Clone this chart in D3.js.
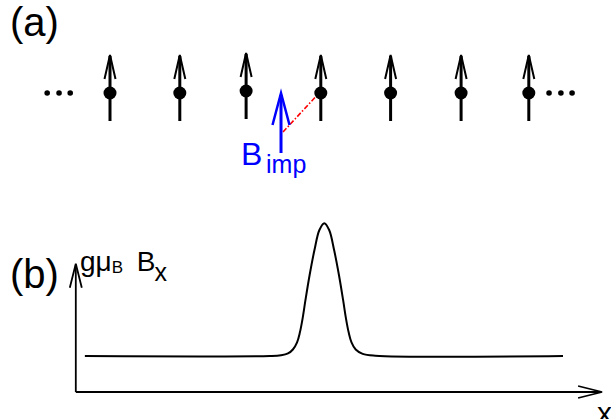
<!DOCTYPE html>
<html>
<head>
<meta charset="utf-8">
<script src="https://cdn.jsdelivr.net/npm/d3@7"></script>
<style>
  html, body { margin: 0; padding: 0; background: #fff; }
  svg { display: block; font-family: "Liberation Sans", Arial, sans-serif; }
</style>
</head>
<body>
<svg id="fig" width="611" height="419"></svg>
<script>
// Lattice sites of the spin chain (in lattice spacings)
const spinSites = [0, 1, 1.95, 3.02, 4.02, 5.03, 6];
// Impurity field sits between sites 2 and 3, linked to site 3
const impuritySite = 2.45;
const linkedSite = 3;
// Local field profile g·mu_B·B_x along the chain (site, value)
const profileX = [-0.36, 2.29, 2.45, 2.55, 2.62, 2.68, 2.72, 2.76, 2.80, 2.86, 2.93, 3.00, 3.07,
                  3.14, 3.21, 3.28, 3.34, 3.38, 3.42, 3.46, 3.52, 3.62, 3.80, 6.49];
const profileB = [1.0, 1.0, 1.02, 1.07, 1.18, 1.38, 1.65, 2.05, 2.55, 3.25, 3.95, 4.5, 4.69,
                  4.5, 3.95, 3.25, 2.55, 2.05, 1.65, 1.38, 1.18, 1.06, 1.01, 1.0];
// Extent of the axes in panel (b)
const axisXRange = [-0.49, 7.05];
const axisYRange = [0, 3.56];

const svg = d3.select("#fig");
const x = d3.scaleLinear().domain([0, 6]).range([110, 528.8]);
const y = d3.scaleLinear().domain([0, 5]).range([392, 212]);

// ---------- panel (a): spin chain ----------
const chainY = 93;
const a = svg.append("g");

a.append("text").attr("x", 10).attr("y", 36).attr("font-size", 40).text("(a)");

const spin = a.selectAll("g.spin").data(spinSites).join("g")
  .attr("class", "spin")
  .attr("transform", (d, i) => `translate(${x(d)},${i === 2 ? chainY - 2 : chainY})`);
spin.append("line").attr("x1", 0).attr("x2", 0).attr("y1", 28).attr("y2", -37)
  .attr("stroke", "#000").attr("stroke-width", 3);
spin.append("path").attr("d", "M-5.5,-14 L0,-38 L5.5,-14")
  .attr("fill", "none").attr("stroke", "#000").attr("stroke-width", 2);
spin.append("circle").attr("r", 6.5).attr("fill", "#000");

// ellipses at both ends of the chain
const dotsL = [-0.9, -0.73, -0.57];
const dotsR = [6.29, 6.46, 6.62];
a.selectAll("circle.ell").data(dotsL.concat(dotsR)).join("circle")
  .attr("class", "ell").attr("cx", d => x(d)).attr("cy", chainY).attr("r", 2.8)
  .attr("fill", "#000");

// coupling of the impurity to its neighbouring spin
a.append("line")
  .attr("x1", x(impuritySite) + 2).attr("y1", 132)
  .attr("x2", x(linkedSite) - 4).attr("y2", 97)
  .attr("stroke", "#ff0000").attr("stroke-width", 1.6)
  .attr("stroke-dasharray", "5,2,1.5,2");

// impurity field arrow
const imp = a.append("g").attr("transform", `translate(${x(impuritySite)},0)`);
imp.append("line").attr("x1", 0).attr("x2", 0).attr("y1", 153).attr("y2", 95)
  .attr("stroke", "#0000ff").attr("stroke-width", 3);
imp.append("path").attr("d", "M-8.5,125 L0,93 L8.5,125")
  .attr("fill", "none").attr("stroke", "#0000ff").attr("stroke-width", 2.5);

const bimp = a.append("text").attr("x", 241).attr("y", 165).attr("fill", "#0000ff")
  .attr("font-size", 32);
bimp.append("tspan").text("B");
bimp.append("tspan").attr("x", 266).attr("y", 173).attr("font-size", 25).text("imp");

// ---------- panel (b): field profile ----------
const b = svg.append("g");
b.append("text").attr("x", 10).attr("y", 288).attr("font-size", 40).text("(b)");

// y axis with arrow
b.append("line").attr("x1", x(axisXRange[0])).attr("x2", x(axisXRange[0]))
  .attr("y1", y(0)).attr("y2", y(axisYRange[1]) + 1)
  .attr("stroke", "#000").attr("stroke-width", 1.8);
b.append("path")
  .attr("d", `M${x(axisXRange[0]) - 6},${y(axisYRange[1]) + 24} L${x(axisXRange[0])},${y(axisYRange[1])} L${x(axisXRange[0]) + 6},${y(axisYRange[1]) + 24}`)
  .attr("fill", "none").attr("stroke", "#000").attr("stroke-width", 1.8);

// x axis with arrow
b.append("line").attr("x1", x(axisXRange[0])).attr("x2", x(axisXRange[1]) - 1)
  .attr("y1", y(0)).attr("y2", y(0))
  .attr("stroke", "#000").attr("stroke-width", 1.8);
b.append("path")
  .attr("d", `M${x(axisXRange[1]) - 24},${y(0) - 6} L${x(axisXRange[1])},${y(0)} L${x(axisXRange[1]) - 24},${y(0) + 6}`)
  .attr("fill", "none").attr("stroke", "#000").attr("stroke-width", 1.8);

// axis labels
const yl = b.append("text").attr("x", 80).attr("y", 271).attr("font-size", 28);
yl.append("tspan").text("gμ");
yl.append("tspan").attr("font-size", 17).attr("dy", 2).text("B");
yl.append("tspan").attr("dx", 6).attr("dy", -2).text(" B");
yl.append("tspan").attr("font-size", 25).attr("dx", -1).attr("dy", 10).text("x");

b.append("text").attr("x", 597).attr("y", 423).attr("font-size", 30).text("x");

// field profile curve
const pts = profileX.map((v, i) => [v, profileB[i]]);
const line = d3.line().x(d => x(d[0])).y(d => y(d[1])).curve(d3.curveCatmullRom.alpha(0.5));
b.append("path").datum(pts).attr("d", line)
  .attr("fill", "none").attr("stroke", "#000").attr("stroke-width", 2);
</script>
</body>
</html>
